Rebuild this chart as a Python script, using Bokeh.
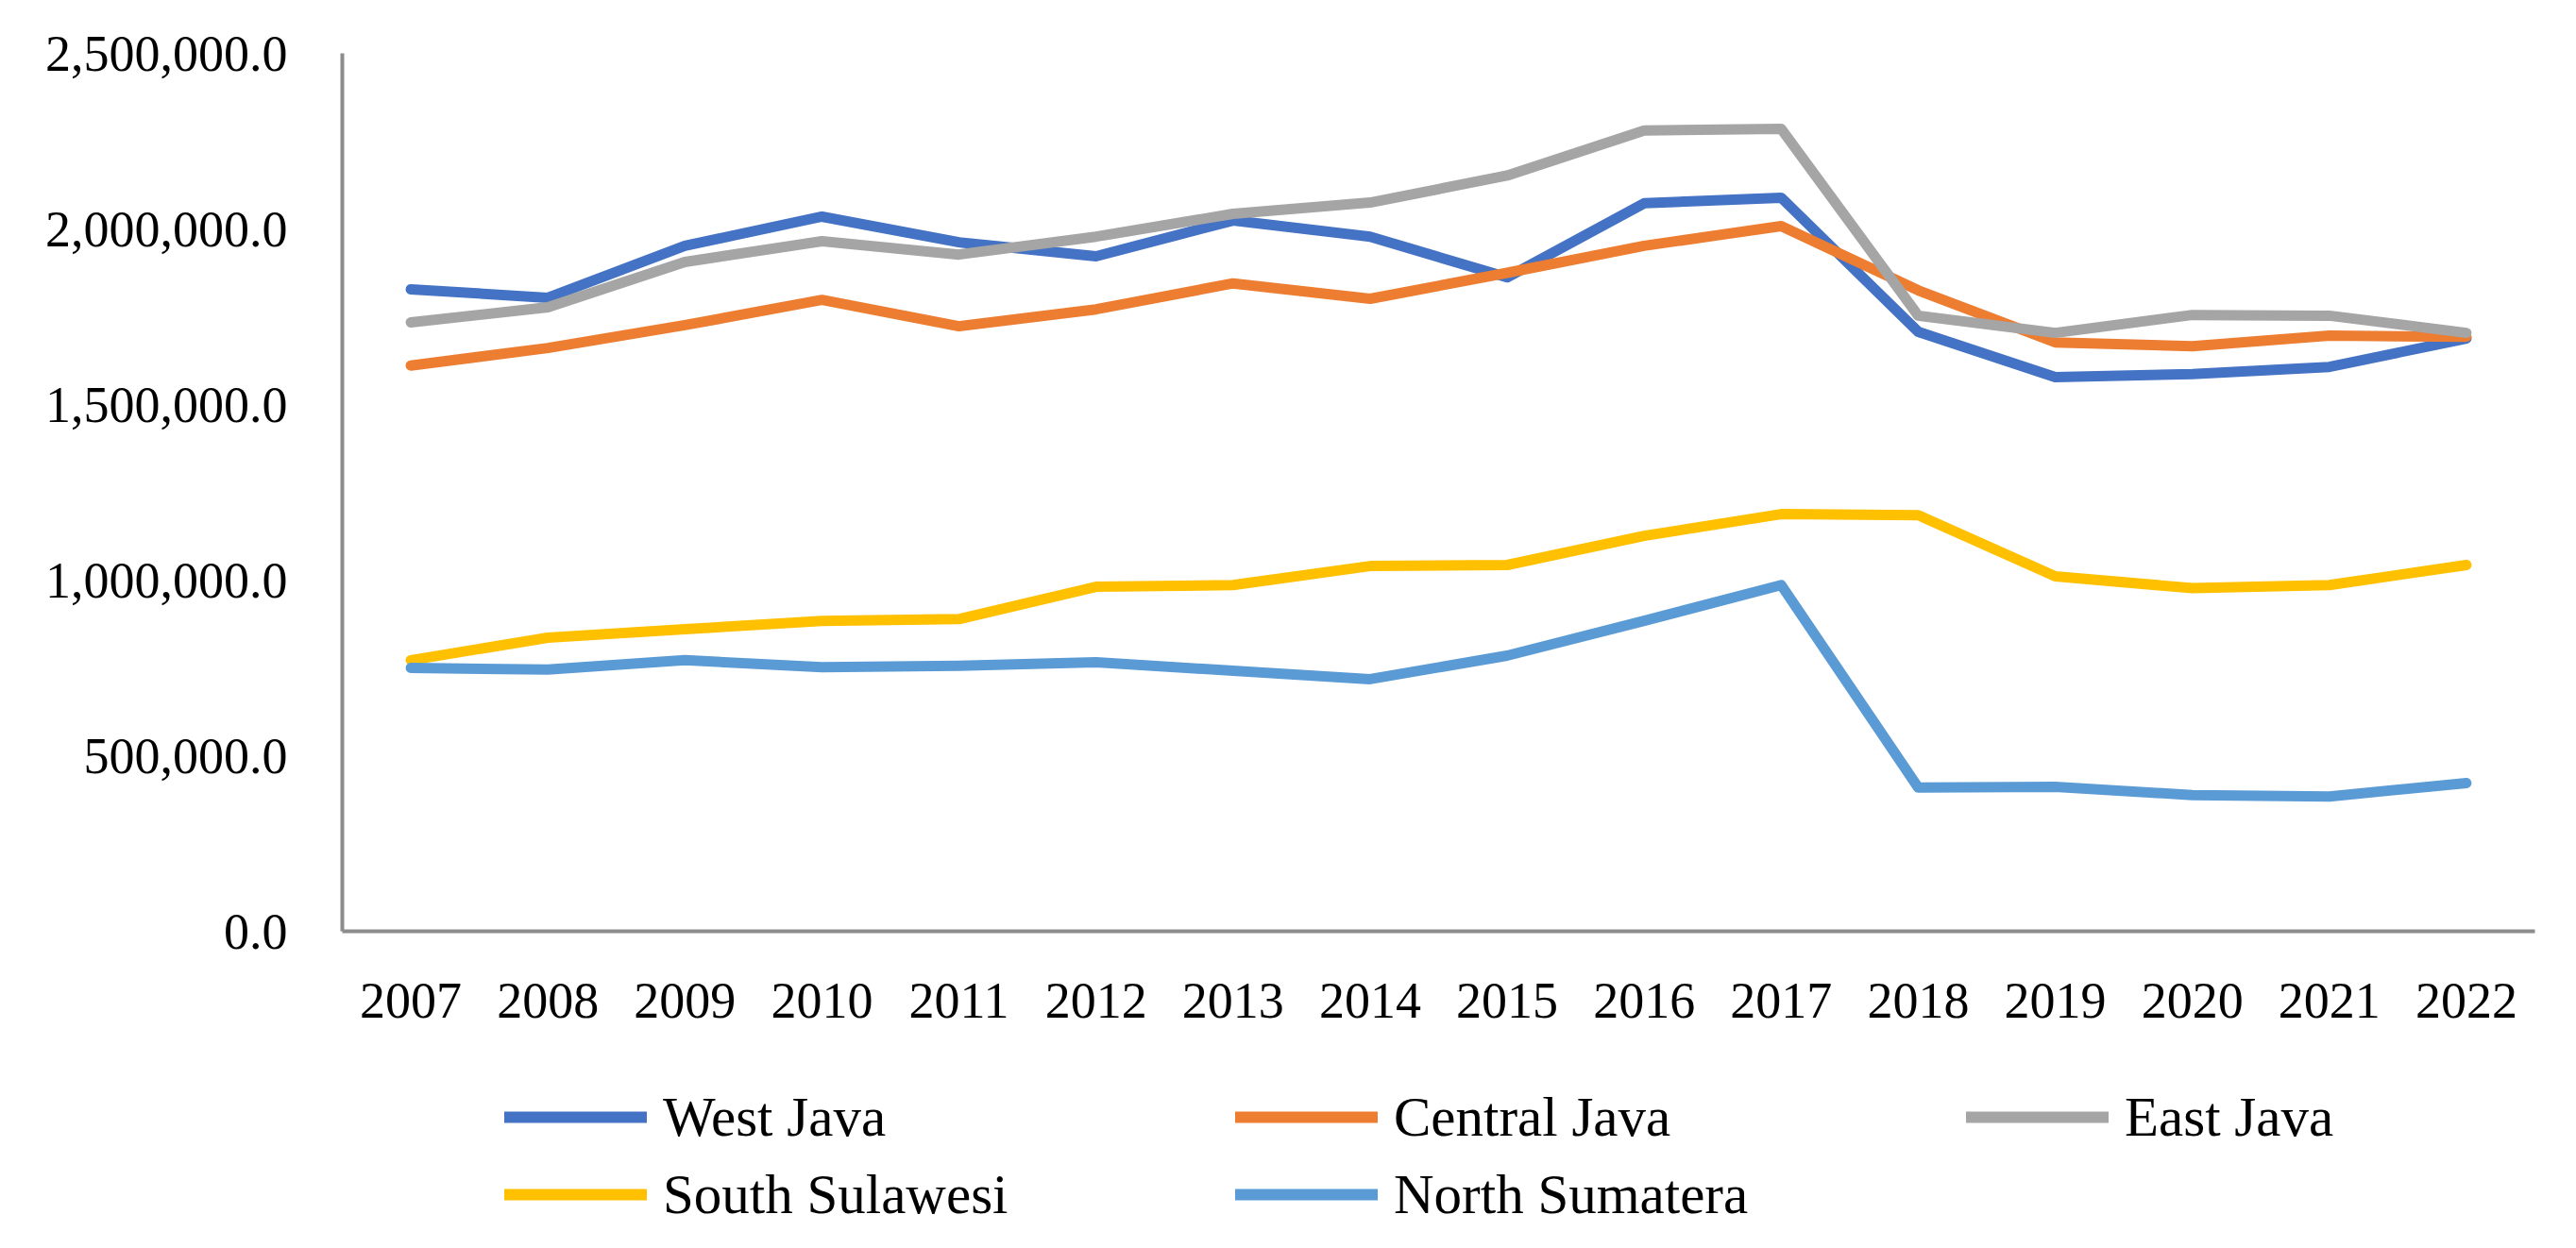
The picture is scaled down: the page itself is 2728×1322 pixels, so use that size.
from bokeh.plotting import figure
from bokeh.models import (ColumnDataSource, FactorRange, Range1d, FixedTicker,
                          NumeralTickFormatter, Legend, LegendItem)
from bokeh.layouts import column
from bokeh.embed import file_html
from bokeh.resources import INLINE

years = ["2007", "2008", "2009", "2010", "2011", "2012", "2013", "2014",
         "2015", "2016", "2017", "2018", "2019", "2020", "2021", "2022"]

west_java = [1828000, 1804000, 1952000, 2035000, 1962000, 1922000, 2024000, 1978000,
             1862000, 2073000, 2089000, 1707000, 1578000, 1587000, 1607000, 1688000]
central_java = [1611000, 1661000, 1726000, 1798000, 1723000, 1771000, 1845000, 1801000,
                1875000, 1952000, 2008000, 1825000, 1677000, 1666000, 1696000, 1693000]
east_java = [1734000, 1777000, 1906000, 1965000, 1927000, 1978000, 2043000, 2075000,
             2152000, 2280000, 2285000, 1753000, 1704000, 1755000, 1753000, 1704000]
south_sulawesi = [772000, 836000, 860000, 884000, 889000, 981000, 986000, 1040000,
                  1043000, 1126000, 1188000, 1185000, 1011000, 977000, 986000, 1043000]
north_sumatera = [750000, 745000, 772000, 752000, 756000, 766000, 742000, 718000,
                  785000, 884000, 986000, 409000, 411000, 388000, 384000, 422000]

series_names = ["West Java", "Central Java", "East Java", "South Sulawesi", "North Sumatera"]
series_values = [west_java, central_java, east_java, south_sulawesi, north_sumatera]
series_colors = ["#4472C4", "#ED7D31", "#A5A5A5", "#FFC000", "#5B9BD5"]

y_ticks = [0, 500000, 1000000, 1500000, 2000000, 2500000]

FONT = "Liberation Serif"
W = 2712
H_TOP = 1130
H_LEG = 176

p = figure(width=W, height=H_TOP, x_range=FactorRange(*years),
           y_range=Range1d(0, 2500000), output_backend="svg",
           toolbar_location=None, min_border_left=362, min_border_right=28,
           min_border_top=56, min_border_bottom=H_TOP - 986)
p.outline_line_color = None
p.xgrid.grid_line_color = None
p.ygrid.grid_line_color = None
p.background_fill_color = "white"
p.border_fill_color = "white"

for ax in (p.xaxis[0], p.yaxis[0]):
    ax.axis_line_color = "#8C8C8C"
    ax.axis_line_width = 4
    ax.major_tick_line_color = None
    ax.minor_tick_line_color = None
    ax.major_tick_out = 0
    ax.major_tick_in = 0
    ax.major_label_text_font = FONT
    ax.major_label_text_font_size = "54px"
    ax.major_label_text_color = "black"

p.yaxis[0].ticker = FixedTicker(ticks=y_ticks)
p.yaxis[0].formatter = NumeralTickFormatter(format="0,0.0")
p.yaxis[0].major_label_standoff = 58
p.xaxis[0].major_label_standoff = 55

# legend strip below the chart
q = figure(width=W, height=H_LEG, x_range=FactorRange(*years),
           y_range=Range1d(0, 2500000), output_backend="svg",
           toolbar_location=None, x_axis_location=None, y_axis_location=None,
           min_border_left=0, min_border_right=0, min_border_top=0,
           min_border_bottom=0)
q.outline_line_color = None
q.xgrid.grid_line_color = None
q.ygrid.grid_line_color = None
q.border_fill_color = "white"
q.background_fill_color = "white"

items = []
for name, vals, col in zip(series_names, series_values, series_colors):
    src = ColumnDataSource(dict(x=years, y=vals))
    p.line("x", "y", source=src, line_color=col, line_width=11,
           line_cap="round", line_join="round")
    r2 = q.line("x", "y", source=src, line_color=col, line_width=12,
                line_cap="round", line_join="round", visible=False)
    items.append(LegendItem(label=name, renderers=[r2]))

legend = Legend(items=items, orientation="horizontal", ncols=3,
                location=(172, 0), glyph_width=151, glyph_height=82,
                label_height=82, label_width=606, label_standoff=17,
                spacing=0, padding=0, margin=0,
                border_line_color=None, background_fill_alpha=0,
                inactive_fill_alpha=0,
                label_text_font=FONT, label_text_font_size="59px",
                label_text_color="black")
q.add_layout(legend, "center")

layout = column(p, q, spacing=0)
open("out.html", "w").write(file_html(layout, INLINE))
